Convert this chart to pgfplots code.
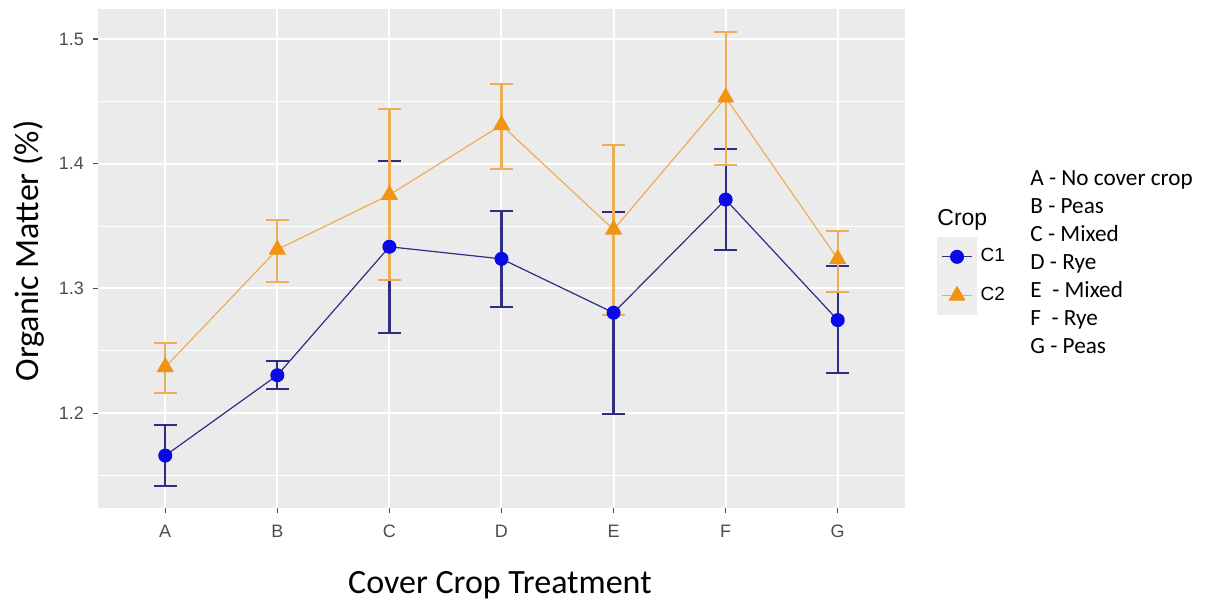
\documentclass[border=0pt]{standalone}
\usepackage{pgfplots}
\pgfplotsset{compat=1.18}
\usepackage{fontspec}
\setmainfont{Carlito}
\newfontfamily\arial{Liberation Sans}

\definecolor{panel}{HTML}{EBEBEB}
\definecolor{keybg}{HTML}{EEEEEE}
\definecolor{cOnePt}{HTML}{0A0AE6}
\definecolor{cOneLn}{HTML}{2E2E85}
\definecolor{cTwoPt}{HTML}{F29412}
\definecolor{cTwoLn}{HTML}{EDAE55}
\definecolor{ticktxt}{HTML}{4D4D4D}

% x  mean  err+  err-
\pgfplotstableread{
x y ep em
0 1.1660 0.0246 0.0243
1 1.2304 0.0114 0.0110
2 1.3334 0.0685 0.0688
3 1.3237 0.0387 0.0383
4 1.2805 0.0805 0.0815
5 1.3712 0.0405 0.0406
6 1.2746 0.0432 0.0424
}\cone
\pgfplotstableread{
x y ep em
0 1.2370 0.0192 0.0212
1 1.3312 0.0234 0.0262
2 1.3750 0.0690 0.0686
3 1.4310 0.0327 0.0352
4 1.3472 0.0680 0.0688
5 1.4531 0.0525 0.0539
6 1.3237 0.0221 0.0264
}\ctwo

\begin{document}
\begin{tikzpicture}
\begin{axis}[
    name=ax,
    at={(0,0)}, anchor=south west,
    scale only axis,
    width=403.5pt, height=249.5pt,
    xmin=-0.6, xmax=6.6,
    ymin=1.124, ymax=1.524,
    axis background/.style={fill=panel},
    axis line style={draw=none},
    xtick=data,
    xticklabels={A,B,C,D,E,F,G},
    ytick={1.2,1.3,1.4,1.5},
    minor ytick={1.15,1.25,1.35,1.45},
    grid=both,
    major grid style={white, line width=1pt},
    minor grid style={white, line width=0.5pt},
    tick pos=left,
    tick align=outside,
    major tick length=2.5pt,
    minor tick length=0pt,
    tick style={ticktxt, line width=0.6pt},
    ticklabel style={font=\arial\fontsize{9}{10}\selectfont, text=ticktxt},
    xticklabel style={yshift=-2.5pt},
    yticklabel style={xshift=-1pt},
    /pgf/number format/assume math mode=true,
    yticklabel style={/pgf/number format/fixed, /pgf/number format/precision=1, /pgf/number format/fixed zerofill},
    xlabel={Cover Crop Treatment},
    ylabel={Organic Matter (\%)},
    label style={font=\fontsize{17}{20}\selectfont},
    xlabel style={at={(axis description cs:0.498,-0.154)}, anchor=center},
    ylabel style={at={(axis description cs:-0.0855,0.515)}, anchor=center},
    clip=false,
    legend style={
        at={(axis description cs:1.0397,0.543)}, anchor=north west,
        draw=none, fill=none, inner sep=0pt,
        font=\arial\fontsize{9.5}{11}\selectfont,
        row sep=0pt,
        nodes={inner sep=2pt},
        cells={anchor=west},
    },
    legend image code/.code={
        \fill[keybg] (-1pt,-9.4pt) rectangle (18pt,9.4pt);
        \draw[mark repeat=2, mark phase=2, #1] plot coordinates {(1pt,0pt)(8.5pt,0pt)(16pt,0pt)};
    },
]
\addplot[cOneLn, line width=0.6pt,
    mark=*, mark size=3.2pt, mark options={fill=cOnePt, draw=cOnePt},
    error bars/.cd, y dir=both, y explicit,
    error bar style={draw=cOneLn, line width=1.1pt},
    error mark options={rotate=90, mark size=5.8pt, line width=1pt, draw=cOneLn},
] table[x=x, y=y, y error plus=ep, y error minus=em] {\cone};
\addlegendentry{C1}
\addplot[cTwoLn, line width=0.6pt,
    mark=triangle*, mark size=4.4pt, mark options={fill=cTwoPt, draw=cTwoPt},
    error bars/.cd, y dir=both, y explicit,
    error bar style={draw=cTwoLn, line width=1.1pt},
    error mark options={rotate=90, mark size=5.8pt, line width=1pt, draw=cTwoLn},
] table[x=x, y=y, y error plus=ep, y error minus=em] {\ctwo};
\addlegendentry{C2}

\node[anchor=west, inner sep=0pt, font=\arial\fontsize{11.5}{13}\selectfont]
    at (rel axis cs:1.0397,0.577) {Crop};
\node[anchor=north west, inner sep=0pt, align=left, font=\fontsize{11.6}{14}\selectfont]
    at (rel axis cs:1.155,0.677) {A - No cover crop\\B - Peas\\C - Mixed\\D - Rye\\E\ \ - Mixed\\F\ \ - Rye\\G - Peas};
\end{axis}
\pgfresetboundingbox
\path (-49pt,-50pt) rectangle (554.5pt,254pt);
\end{tikzpicture}
\end{document}
